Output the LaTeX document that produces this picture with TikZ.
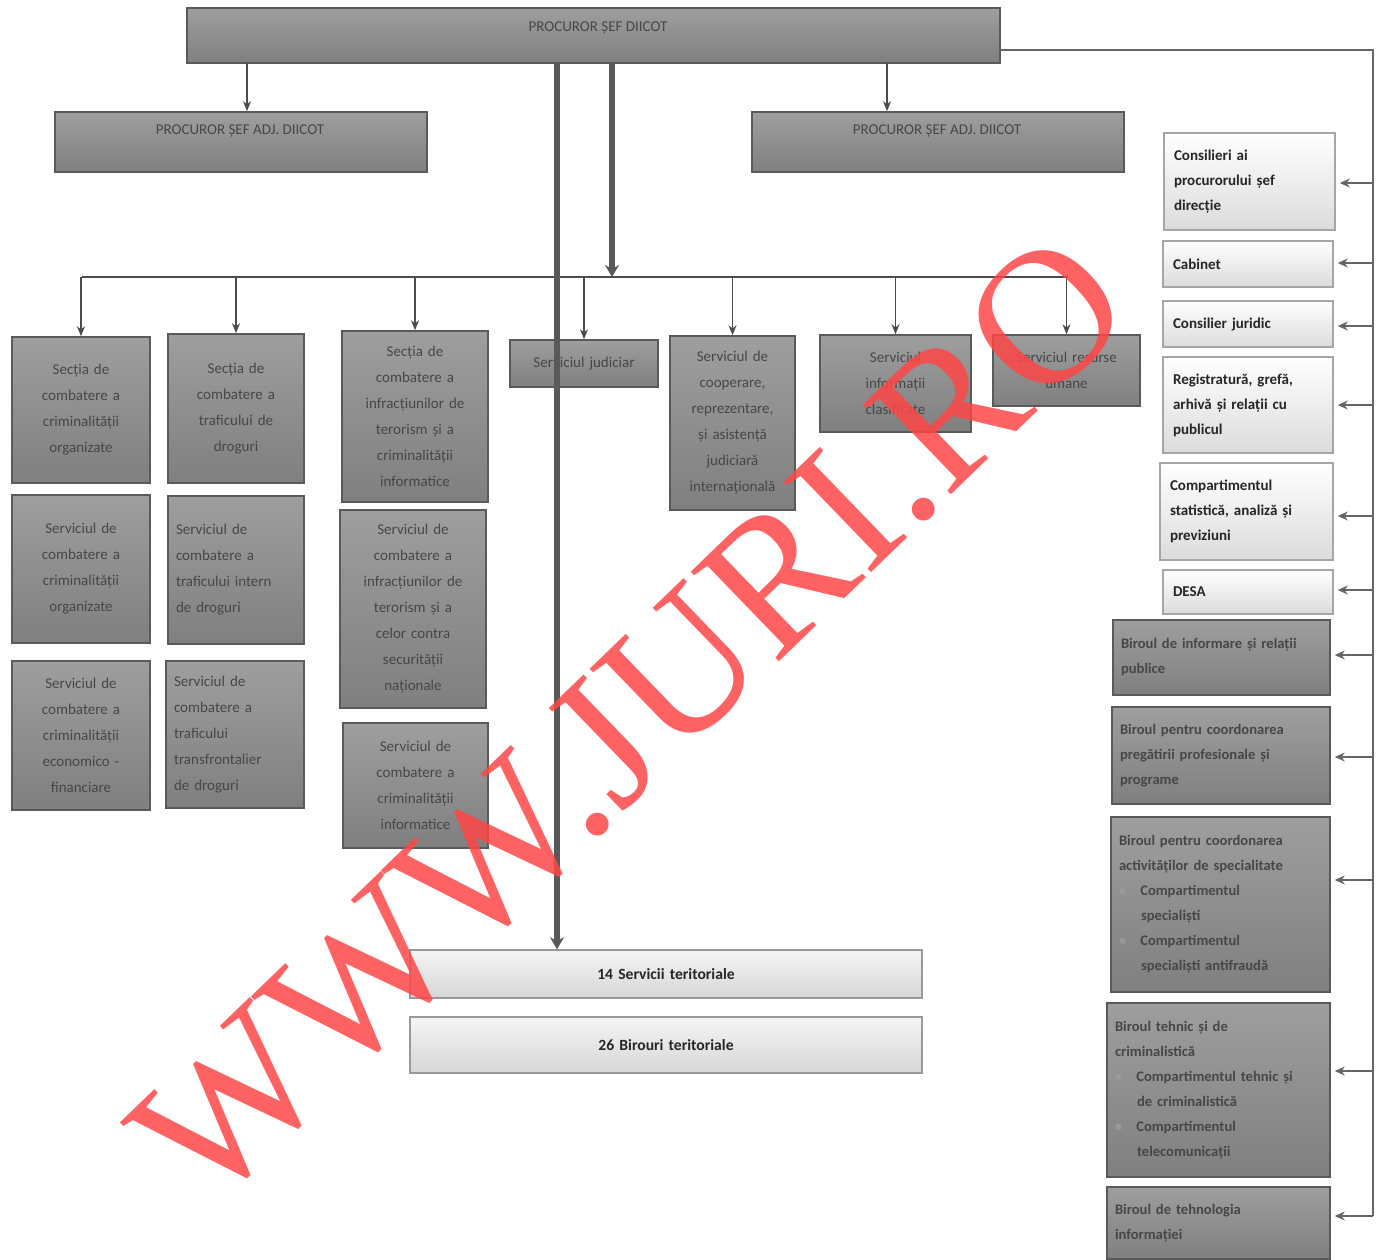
\documentclass[tikz,border=0pt]{standalone}
\usepackage{fontspec}
\setmainfont{Carlito}
\newfontfamily\wmfont{Liberation Serif}
\usetikzlibrary{arrows.meta}
\definecolor{boxgray}{HTML}{8E8E8E}
\definecolor{boxedge}{HTML}{5A5A5A}
\definecolor{boxtext}{HTML}{474747}
\definecolor{wmred}{RGB}{255,70,70}
\newcommand\bx[7]{%
 \pgfmathsetmacro\bxw{(#5-#3)*0.5}%
 \pgfmathsetmacro\bxh{(#6-#4)*0.5}%
 \pgfmathsetmacro\bxt{(#5-#3)*0.5-8}%
 \node[#2, minimum width=\bxw pt, minimum height=\bxh pt, text width=\bxt pt] (#1) at ({(#3+#5)/2},{(#4+#6)/2}) {#7};}
\tikzset{
 darkbox/.style={draw=boxedge, line width=0.8pt, top color=black!38, bottom color=black!50, inner xsep=4pt, inner ysep=2pt,
   text=boxtext, font=\fontsize{7.5}{13}\selectfont, align=center},
 darkboxl/.style={darkbox, align=left},
 rdark/.style={darkbox, align=left, font=\bfseries\fontsize{7.3}{12.5}\selectfont, text=black!72},
 lightbox/.style={draw=black!35, line width=0.8pt, top color=white, bottom color=black!14, inner xsep=5pt, inner ysep=2pt,
   text=black!85, font=\bfseries\fontsize{7.5}{12.5}\selectfont, align=left},
 botbox/.style={draw=black!40, line width=0.8pt, top color=black!4, bottom color=black!16, inner sep=2pt,
   text=black!85, font=\bfseries\fontsize{7.8}{10}\selectfont, align=center},
 lbl/.style={text=boxtext, font=\fontsize{7.5}{9}\selectfont, inner sep=1pt},
 conn/.style={draw=black!70, line width=0.7pt, -{Stealth[length=5pt,width=4pt]}},
 rconn/.style={draw=black!60, line width=0.55pt, -{Stealth[length=5pt,width=4.5pt]}, shorten >=2pt},
 trunk/.style={draw=black!65, line width=3pt, -{Stealth[length=6pt,width=7pt]}}
}
\newcommand\bitem[1]{{\color{black!40}\textbullet}\hspace{7pt}#1}
\newcommand\bcont[1]{\hspace*{11pt}#1}
\begin{document}
\begin{tikzpicture}[x=0.5pt,y=-0.5pt]
\useasboundingbox (0,0) rectangle (1384,1259);
% top
\bx{top}{darkbox}{187}{8}{1000}{63}{}
\node[lbl] (toplbl) at (598,28) {PROCUROR ȘEF DIICOT};
\bx{adjL}{darkbox}{55}{112}{427}{172}{}
\node[lbl] (adjLlbl) at (240,131) {PROCUROR ȘEF ADJ. DIICOT};
\bx{adjR}{darkbox}{752}{112}{1124}{172}{}
\node[lbl] (adjRlbl) at (937,131) {PROCUROR ȘEF ADJ. DIICOT};
% columns
\bx{c1a}{darkbox}{12}{337}{150}{483}{Secția de\\combatere a\\criminalității\\organizate}
\bx{c1b}{darkbox}{12}{495}{150}{643}{Serviciul de\\combatere a\\criminalității\\organizate}
\bx{c1c}{darkbox}{12}{661}{150}{810}{Serviciul de\\combatere a\\criminalității\\economico -\\financiare}
\bx{c2a}{darkbox}{168}{334}{304}{483}{Secția de\\combatere a\\traficului de\\droguri}
\bx{c2b}{darkboxl}{168}{496}{304}{644}{Serviciul de\\combatere a\\traficului intern\\de droguri}
\bx{c2c}{darkboxl}{166}{661}{304}{808}{Serviciul de\\combatere a\\traficului\\transfrontalier\\de droguri}
\bx{c3a}{darkbox}{342}{331}{488}{502}{Secția de\\combatere a\\infracțiunilor de\\terorism și a\\criminalității\\informatice}
\bx{c3b}{darkbox}{340}{510}{486}{708}{Serviciul de\\combatere a\\infracțiunilor de\\terorism și a\\celor contra\\securității\\naționale}
\bx{c3c}{darkbox}{343}{723}{488}{848}{Serviciul de\\combatere a\\criminalității\\informatice}
\bx{jud}{darkbox}{510}{340}{658}{387}{Serviciul judiciar}
\bx{c5}{darkbox}{670}{336}{795}{510}{Serviciul de\\cooperare,\\reprezentare,\\și asistență\\judiciară\\internațională}
\bx{c6}{darkbox}{820}{335}{971}{432}{Serviciul\\informații\\clasificate}
\bx{c7}{darkbox}{993}{335}{1140}{406}{Serviciul resurse\\umane}
% bottom
\bx{s14}{botbox}{410}{950}{922}{998}{14 Servicii teritoriale}
\bx{b26}{botbox}{410}{1017}{922}{1073}{26 Birouri teritoriale}
% right column
\bx{r1}{lightbox}{1166}{133}{1333}{230}{Consilieri ai\\procurorului șef\\direcție}
\bx{r2}{lightbox}{1165}{241}{1331}{287}{Cabinet}
\bx{r3}{lightbox}{1165}{301}{1331}{347}{Consilier juridic}
\bx{r4}{lightbox}{1165}{357}{1331}{453}{Registratură, grefă,\\arhivă și relații cu\\publicul}
\bx{r5}{lightbox}{1162}{463}{1331}{560}{Compartimentul\\statistică, analiză și\\previziuni}
\bx{r6}{lightbox}{1165}{570}{1331}{614}{DESA}
\bx{r7}{rdark}{1113}{620}{1330}{695}{Biroul de informare și relații\\publice}
\bx{r8}{rdark}{1112}{707}{1330}{804}{Biroul pentru coordonarea\\pregătirii profesionale și\\programe}
\bx{r9}{rdark}{1111}{817}{1330}{992}{Biroul pentru coordonarea\\activităților de specialitate\\\bitem{Compartimentul}\\\bcont{specialiști}\\\bitem{Compartimentul}\\\bcont{specialiști antifraudă}}
\bx{r10}{rdark}{1107}{1003}{1330}{1177}{Biroul tehnic și de\\criminalistică\\\bitem{Compartimentul tehnic și}\\\bcont{de criminalistică}\\\bitem{Compartimentul}\\\bcont{telecomunicații}}
\bx{r11}{rdark}{1107}{1187}{1330}{1259}{Biroul de tehnologia\\informației}
% connectors
\coordinate (aL) at (247,63);
\coordinate (aR) at (887,63);
\draw[conn] (aL) -- (aL |- adjL.north);
\draw[conn] (aR) -- (aR |- adjR.north);
\coordinate (busL) at (82,277);
\coordinate (busR) at (1068,277);
\draw[draw=black!70, line width=0.9pt] (busL) -- (busR);
\foreach \n in {c1a,c2a,c3a,jud,c5,c6,c7}{
  \draw[conn] (\n.north |- busL) -- (\n.north);
}
\coordinate (t1) at (557,63);
\coordinate (t2) at (612,63);
\draw[trunk] (t1) -- (t1 |- s14.north);
\draw[trunk] (t2) -- (t2 |- busL);
\coordinate (rc) at (1373,50);
\coordinate (rb) at (1373,1216);
\draw[draw=black!60, line width=0.55pt] (top.east |- rc) -- (rc) -- (rb);
\foreach \n/\yy in {r1/183,r2/263,r3/326,r4/405,r5/516,r6/590,r7/655,r8/757,r9/880,r10/1071,r11/1216}{
  \draw[rconn] (1373,\yy) -- (\n.east |- 0,\yy);
}
% watermark
\node[text=wmred, opacity=0.85, rotate=44, font=\wmfont\fontsize{96}{96}\selectfont, inner sep=0pt] (wm) at (630,719) {WWW.JURI.RO};
\end{tikzpicture}
\end{document}
